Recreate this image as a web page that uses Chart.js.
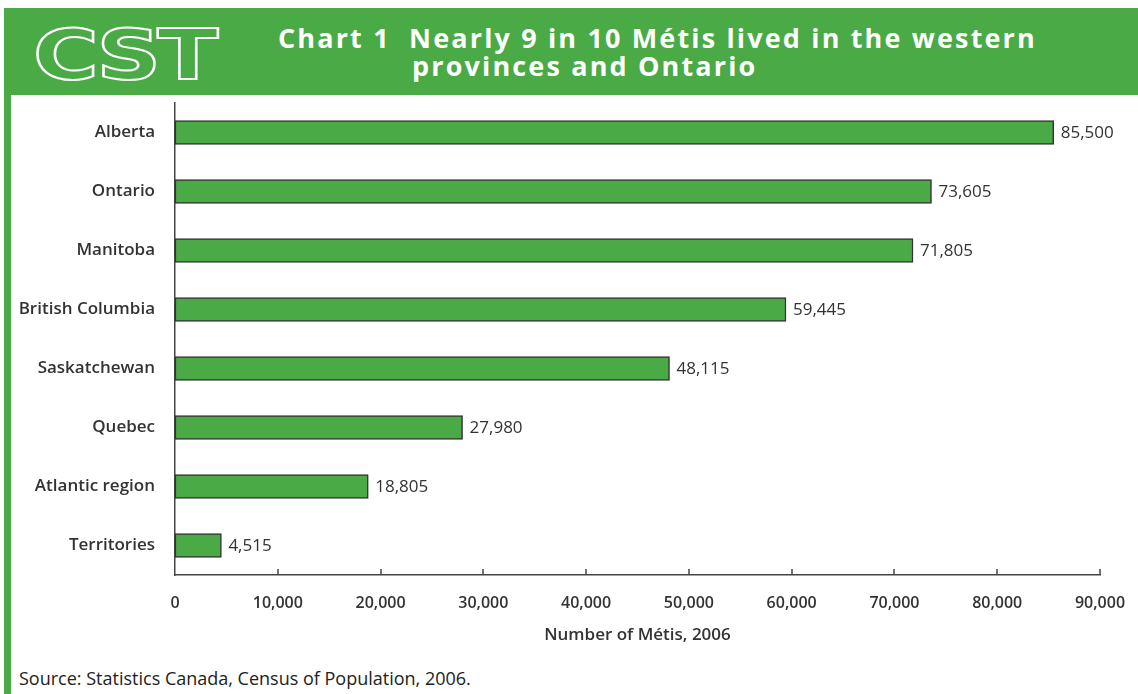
<!DOCTYPE html>
<html>
<head>
<meta charset="utf-8">
<script src="https://cdn.jsdelivr.net/npm/chart.js@4"></script>
<style>
  body { margin: 0; background: #fff; width: 1138px; height: 694px; position: relative; overflow: hidden; font-family: "Open Sans", sans-serif; }
  #head { position: absolute; left: 4px; top: 8px; width: 1134px; height: 87px; background: #4aaa46; }
  #side { position: absolute; left: 4px; top: 95px; width: 7px; height: 599px; background: #4aaa46; }
  #logo { position: absolute; left: 33px; top: 20px; font: bold 70px "DejaVu Sans"; color: #4aaa46;
          -webkit-text-stroke: 2px #fff; letter-spacing: -3px; transform: scale(1.28, 1.0); transform-origin: left top; line-height: 70px; }
  #title { position: absolute; left: 278px; top: 24px; color: #fff; font: bold 27px "Open Sans"; line-height: 28px; letter-spacing: 2.15px; }
  #title span { padding-left: 134px; }
  #wrap { position: absolute; left: 11px; top: 97px; }
  #src { position: absolute; left: 19px; top: 666px; font: 18px "Open Sans"; color: #222; }
</style>
</head>
<body>
<div id="head"></div>
<div id="side"></div>
<div id="logo">CST</div>
<div id="title">Chart 1&nbsp; Nearly 9 in 10 Métis lived in the western<br><span>provinces and Ontario</span></div>
<div id="wrap"><canvas id="chart" width="1127" height="560"></canvas></div>
<div id="src">Source: Statistics Canada, Census of Population, 2006.</div>
<script>
const provinces = ['Alberta', 'Ontario', 'Manitoba', 'British Columbia', 'Saskatchewan', 'Quebec', 'Atlantic region', 'Territories'];
const metis = [85500, 73605, 71805, 59445, 48115, 27980, 18805, 4515];
const xTicks = [0, 10000, 20000, 30000, 40000, 50000, 60000, 70000, 80000, 90000];

const fmt = v => v.toLocaleString('en-US');
const labelFont = { family: 'Open Sans', size: 16, weight: '600' };

// value labels at the end of each bar + small upward ticks on the x axis
const extras = {
  id: 'extras',
  afterDatasetsDraw(chart) {
    const ctx = chart.ctx;
    const meta = chart.getDatasetMeta(0);
    ctx.save();
    ctx.fillStyle = '#333';
    ctx.font = '17px "Open Sans"';
    ctx.textBaseline = 'middle';
    meta.data.forEach((bar, i) => {
      ctx.fillText(fmt(metis[i]), bar.x + 7, bar.y + 1);
    });
    const x = chart.scales.x;
    ctx.strokeStyle = '#444';
    ctx.lineWidth = 1.5;
    xTicks.forEach(v => {
      if (v === 0) return;
      const px = Math.round(x.getPixelForValue(v));
      ctx.beginPath();
      ctx.moveTo(px, x.top);
      ctx.lineTo(px, x.top - 6);
      ctx.stroke();
    });
    ctx.restore();
  }
};

new Chart(document.getElementById('chart'), {
  type: 'bar',
  data: {
    labels: provinces,
    datasets: [{
      data: metis,
      backgroundColor: '#4aaa46',
      borderColor: '#333',
      borderWidth: 1.5,
      borderSkipped: false,
      barThickness: 24
    }]
  },
  options: {
    indexAxis: 'y',
    responsive: false,
    animation: false,
    layout: { padding: { top: 6, right: 38, left: 0, bottom: 0 } },
    plugins: { legend: { display: false }, tooltip: { enabled: false } },
    scales: {
      x: {
        min: 0,
        max: 90000,
        afterBuildTicks: s => { s.ticks = xTicks.map(v => ({ value: v })); },
        afterFit: s => { s.height = 82; s.paddingLeft = 0; s.paddingRight = 0; },
        ticks: { callback: v => fmt(v), font: labelFont, color: '#333', padding: 11, maxRotation: 0 },
        grid: { display: false },
        border: { color: '#444', width: 1.5 },
        title: { display: true, text: 'Number of Métis, 2006', font: { family: 'Open Sans', size: 17, weight: '600' }, color: '#333', padding: { top: 4, bottom: 12 } }
      },
      y: {
        afterFit: s => { s.width = 164; s.paddingTop = 0; s.paddingBottom = 0; },
        ticks: { font: { family: 'Open Sans', size: 17, weight: '600' }, color: '#333', padding: 20 },
        grid: { display: false, drawTicks: false },
        border: { color: '#444', width: 1.5 }
      }
    }
  },
  plugins: [extras]
});
</script>
</body>
</html>
